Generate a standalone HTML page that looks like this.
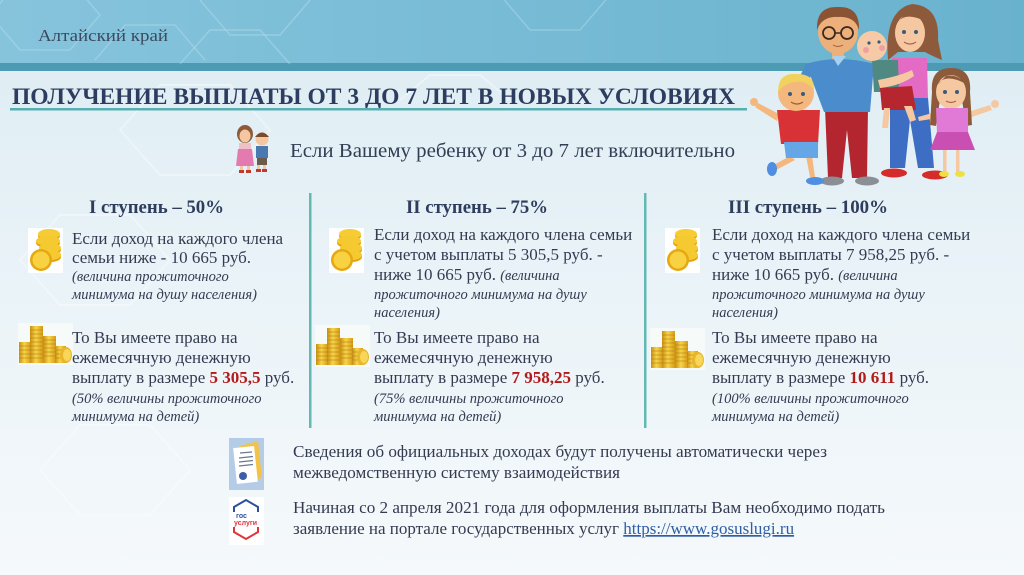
<!DOCTYPE html>
<html lang="ru">
<head>
<meta charset="utf-8">
<style>
  html,body{margin:0;padding:0;background:#eef5f9;}
  #wrap{width:1024px;height:575px;overflow:hidden;position:relative;}
  svg{display:block;}
  .t{font-family:"Liberation Serif","Noto Serif CJK SC",serif;fill:#343b51;}
  .m{font-size:17px;}
  .i{font-size:14.5px;font-style:italic;}
  .h{font-size:19px;font-weight:bold;fill:#2e3d5c;}
  .r{font-weight:bold;fill:#b31b1b;}
</style>
</head>
<body>
<div id="wrap">
<svg width="1024" height="575" viewBox="0 0 1024 575" xmlns="http://www.w3.org/2000/svg">
  <defs>
    <linearGradient id="band" x1="0" y1="0" x2="1" y2="0">
      <stop offset="0" stop-color="#86c4dc"/>
      <stop offset="1" stop-color="#69b2ce"/>
    </linearGradient>
    <linearGradient id="body" x1="0" y1="0" x2="0" y2="1">
      <stop offset="0" stop-color="#dcecf3"/>
      <stop offset="0.5" stop-color="#eaf3f8"/>
      <stop offset="1" stop-color="#f5f9fb"/>
    </linearGradient>
    <linearGradient id="gold" x1="0" y1="0" x2="1" y2="0">
      <stop offset="0" stop-color="#c98f12"/>
      <stop offset="0.45" stop-color="#f7d44a"/>
      <stop offset="1" stop-color="#d59a16"/>
    </linearGradient>
  </defs>

  <!-- background -->
  <rect x="0" y="0" width="1024" height="575" fill="url(#body)"/>
  <rect x="0" y="0" width="1024" height="64" fill="url(#band)"/>
  <rect x="0" y="63" width="1024" height="8" fill="#4d9ab5"/>

  <!-- faint hexagons in header -->
  <g fill="none" stroke="#bfe2ee" stroke-opacity="0.4" stroke-width="1.5">
    <path d="M-10 15 L20 -20 L70 -20 L100 15 L70 50 L20 50 Z"/>
    <path d="M95 60 L125 25 L175 25 L205 60"/>
    <path d="M200 0 L230 35 L280 35 L310 0"/>
    <path d="M180 64 L210 30 L260 30 L290 64"/>
    <path d="M500 -5 L530 30 L580 30 L610 -5"/>
  </g>
  <!-- faint hexagons in body -->
  <g fill="none" stroke="#ffffff" stroke-opacity="0.35" stroke-width="2">
    <path d="M120 130 L160 85 L230 85 L270 130 L230 175 L160 175 Z"/>
    <path d="M20 260 L60 215 L130 215 L170 260 L130 305 L60 305 Z"/>
    <path d="M400 100 L430 75 L480 75 L510 100"/>
    <path d="M40 470 L80 425 L150 425 L190 470 L150 515 L80 515 Z"/>
  </g>

  <!-- header texts -->
  <text class="t" x="38" y="41" font-size="17" style="fill:#3b4a60" textLength="130" lengthAdjust="spacingAndGlyphs">Алтайский край</text>
  <text class="t" x="12" y="104" font-size="23" font-weight="bold" style="fill:#2d3d5f" textLength="723" lengthAdjust="spacingAndGlyphs">ПОЛУЧЕНИЕ ВЫПЛАТЫ ОТ 3 ДО 7 ЛЕТ В НОВЫХ УСЛОВИЯХ</text>
  <rect x="10" y="108" width="737" height="2.5" fill="#58afb1"/>

  <!-- kids icon -->
  <g>
    <ellipse cx="245" cy="134" rx="8" ry="9" fill="#8d5a3a"/>
    <ellipse cx="245" cy="136" rx="5.5" ry="6.5" fill="#f4c7a0"/>
    <rect x="239" y="143" width="12" height="8" fill="#f0c0c8"/>
    <path d="M238 149 L252 149 L254 166 L236 166 Z" fill="#e47bb0"/>
    <rect x="240" y="166" width="3" height="5" fill="#f4c7a0"/>
    <rect x="247" y="166" width="3" height="5" fill="#f4c7a0"/>
    <rect x="239" y="170" width="5" height="3" fill="#c0392b"/>
    <rect x="246" y="170" width="5" height="3" fill="#c0392b"/>
    <circle cx="262" cy="139" r="6.5" fill="#f4c7a0"/>
    <path d="M255 137 Q262 128 269 137 Z" fill="#7a4a2a"/>
    <rect x="256" y="146" width="12" height="12" fill="#4a78b0"/>
    <rect x="257" y="158" width="10" height="7" fill="#6b5b4b"/>
    <rect x="257" y="165" width="3" height="5" fill="#f4c7a0"/>
    <rect x="263" y="165" width="3" height="5" fill="#f4c7a0"/>
    <rect x="256" y="169" width="5" height="3" fill="#c0392b"/>
    <rect x="262" y="169" width="5" height="3" fill="#c0392b"/>
  </g>
  <text class="t" x="290" y="157" font-size="20" style="fill:#333d55" textLength="445" lengthAdjust="spacingAndGlyphs">Если Вашему ребенку от 3 до 7 лет включительно</text>

  <!-- family illustration -->
  <g>
    <!-- dad -->
    <path d="M825 108 L868 108 L867 178 L852 178 L847 130 L842 178 L828 178 Z" fill="#b3262f"/>
    <ellipse cx="832" cy="181" rx="12" ry="4.5" fill="#8a8f95"/>
    <ellipse cx="867" cy="181" rx="12" ry="4.5" fill="#8a8f95"/>
    <rect x="832" y="48" width="12" height="12" fill="#eeb07a"/>
    <path d="M806 64 Q838 54 874 64 L870 112 L824 112 Z" fill="#4b8dcc"/>
    <path d="M806 64 L797 82 L806 86 L813 72 Z" fill="#4b8dcc"/>
    <path d="M832 56 L838 66 L846 56 Z" fill="#a8d0ef"/>
    <ellipse cx="838" cy="32" rx="20" ry="22" fill="#eeb07a"/>
    <path d="M817 30 Q816 6 838 7 Q860 6 859 30 Q855 16 838 17 Q822 16 817 30 Z" fill="#8a5434"/>
    <circle cx="829" cy="33" r="6" fill="none" stroke="#3a2a20" stroke-width="1.8"/>
    <circle cx="847" cy="33" r="6" fill="none" stroke="#3a2a20" stroke-width="1.8"/>
    <line x1="835" y1="33" x2="841" y2="33" stroke="#3a2a20" stroke-width="1.5"/>
    <path d="M833 45 Q838 48 843 45" fill="none" stroke="#a0603a" stroke-width="1"/>
    <!-- mom -->
    <path d="M888 60 Q884 10 912 4 Q940 6 938 40 L942 60 Q930 55 925 52 L898 52 Z" fill="#8e5a3c"/>
    <ellipse cx="910" cy="33" rx="15" ry="19" fill="#f6c8a2"/>
    <path d="M895 25 Q905 10 926 22 Q918 12 905 14 Z" fill="#8e5a3c"/>
    <circle cx="904" cy="32" r="2" fill="#3b5b7a"/>
    <circle cx="916" cy="32" r="2" fill="#3b5b7a"/>
    <path d="M904 42 Q910 46 916 42" fill="none" stroke="#b06050" stroke-width="1.2"/>
    <path d="M892 58 L927 58 L928 100 L891 100 Z" fill="#e46bc4"/>
    <path d="M890 98 L928 98 L934 168 L918 168 L910 120 L905 168 L890 168 Z" fill="#3d6ec3"/>
    <ellipse cx="894" cy="173" rx="13" ry="4.5" fill="#d52b2b"/>
    <ellipse cx="935" cy="175" rx="13" ry="4.5" fill="#d52b2b"/>
    <!-- baby -->
    <path d="M872 60 L898 60 L899 92 L874 92 Z" fill="#4f8982"/>
    <path d="M880 88 L912 86 L916 110 L882 110 Z" fill="#b5262e"/>
    <path d="M884 108 L890 108 L888 128 L882 128 Z" fill="#f6c8a2"/>
    <path d="M904 106 L912 106 L916 120 L910 122 Z" fill="#f6c8a2"/>
    <circle cx="872" cy="46" r="15" fill="#f6caa6"/>
    <circle cx="866" cy="50" r="3" fill="#f0a0a0"/>
    <circle cx="882" cy="48" r="3" fill="#f0a0a0"/>
    <circle cx="869" cy="43" r="1.6" fill="#3b5b7a"/>
    <circle cx="879" cy="42" r="1.6" fill="#3b5b7a"/>
    <path d="M878 80 Q900 76 912 70 L914 76 Q900 86 880 88 Z" fill="#f6c8a2"/>
    <!-- boy -->
    <path d="M779 114 L758 103 L755 107 L777 121 Z" fill="#f4b77d"/>
    <circle cx="754" cy="102" r="4" fill="#f4b77d"/>
    <path d="M790 156 L772 166 L776 170 L795 160 Z" fill="#f4b77d"/>
    <path d="M806 156 L810 177 L815 177 L812 156 Z" fill="#f4b77d"/>
    <ellipse cx="772" cy="169" rx="5" ry="7" fill="#4f8ee0"/>
    <ellipse cx="815" cy="181" rx="9" ry="4" fill="#4f8ee0"/>
    <path d="M777 110 L820 110 L818 144 L781 144 Z" fill="#d93236"/>
    <path d="M784 142 L818 142 L818 158 L786 158 Z" fill="#65a7e6"/>
    <circle cx="796" cy="93" r="18" fill="#f4b77d"/>
    <path d="M778 92 Q778 72 797 74 Q815 74 814 90 Q806 80 796 82 Q786 82 778 92 Z" fill="#f1d25e"/>
    <circle cx="790" cy="94" r="2" fill="#3b5b7a"/>
    <circle cx="803" cy="94" r="2" fill="#3b5b7a"/>
    <path d="M791 102 Q797 106 803 102" fill="none" stroke="#a05a30" stroke-width="1.2"/>
    <!-- girl -->
    <path d="M968 112 L990 105 L992 110 L969 118 Z" fill="#f6c8a2"/>
    <circle cx="995" cy="104" r="4" fill="#f6c8a2"/>
    <path d="M936 112 L918 117 L919 121 L937 118 Z" fill="#f6c8a2"/>
    <rect x="943" y="148" width="3.5" height="24" fill="#f6c8a2"/>
    <rect x="956" y="148" width="3.5" height="24" fill="#f6c8a2"/>
    <ellipse cx="944" cy="174" rx="5" ry="3" fill="#efe040"/>
    <ellipse cx="960" cy="174" rx="5" ry="3" fill="#efe040"/>
    <path d="M932 92 Q930 68 951 68 Q972 68 970 92 L972 125 L966 126 L962 100 L940 100 L936 126 L930 125 Z" fill="#8e5a3c"/>
    <ellipse cx="951" cy="92" rx="15" ry="17" fill="#f6c8a2"/>
    <path d="M936 86 Q945 72 966 84 Q958 74 946 76 Z" fill="#8e5a3c"/>
    <circle cx="945" cy="92" r="2" fill="#3b5b7a"/>
    <circle cx="957" cy="92" r="2" fill="#3b5b7a"/>
    <path d="M946 101 Q951 104 956 101" fill="none" stroke="#b06050" stroke-width="1.2"/>
    <path d="M936 108 L968 108 L968 134 L937 134 Z" fill="#e07ad6"/>
    <path d="M937 132 L968 132 L975 150 L930 150 Z" fill="#c94fb3"/>
  </g>

  <!-- column dividers -->
  <rect x="309" y="193" width="2.5" height="235" fill="#62b8b2"/>
  <rect x="644" y="193" width="2.5" height="235" fill="#62b8b2"/>

  <!-- coin icons (single stacks) -->
  <g id="coin1">
    <rect x="28" y="228" width="35" height="45" fill="#ffffff"/>
    <ellipse cx="49" cy="236" rx="11" ry="5" fill="#e5a810"/>
    <ellipse cx="49" cy="234" rx="11" ry="5" fill="#f6cc35"/>
    <ellipse cx="48" cy="243" rx="12" ry="5" fill="#e2a20e"/>
    <ellipse cx="48" cy="241" rx="12" ry="5" fill="#f5c930"/>
    <ellipse cx="50" cy="250" rx="11" ry="5" fill="#e2a20e"/>
    <ellipse cx="50" cy="248" rx="11" ry="5" fill="#f5c930"/>
    <ellipse cx="51" cy="257" rx="10" ry="5" fill="#e2a20e"/>
    <ellipse cx="51" cy="255" rx="10" ry="5" fill="#f5c930"/>
    <circle cx="41" cy="260" r="11" fill="#e5a810"/>
    <circle cx="41" cy="260" r="8.5" fill="#f8d243"/>
  </g>
  <use href="#coin1" x="301" y="0"/>
  <use href="#coin1" x="637" y="0"/>

  <!-- coin stacks -->
  <g id="stack1">
    <rect x="18" y="323" width="55" height="42" fill="#fbfcf8" opacity="0.7"/>
    <rect x="19" y="342" width="12" height="21" fill="url(#gold)"/>
    <rect x="30" y="326" width="13" height="37" fill="url(#gold)"/>
    <rect x="43" y="336" width="13" height="27" fill="url(#gold)"/>
    <rect x="55" y="346" width="11" height="17" fill="url(#gold)"/>
    <g stroke="#b07c10" stroke-width="0.8" stroke-opacity="0.7">
      <line x1="19" y1="346" x2="31" y2="346"/><line x1="19" y1="350" x2="31" y2="350"/><line x1="19" y1="354" x2="31" y2="354"/><line x1="19" y1="358" x2="31" y2="358"/>
      <line x1="30" y1="330" x2="43" y2="330"/><line x1="30" y1="334" x2="43" y2="334"/><line x1="30" y1="338" x2="43" y2="338"/><line x1="30" y1="342" x2="43" y2="342"/><line x1="30" y1="346" x2="43" y2="346"/><line x1="30" y1="350" x2="43" y2="350"/><line x1="30" y1="354" x2="43" y2="354"/><line x1="30" y1="358" x2="43" y2="358"/>
      <line x1="43" y1="340" x2="56" y2="340"/><line x1="43" y1="344" x2="56" y2="344"/><line x1="43" y1="348" x2="56" y2="348"/><line x1="43" y1="352" x2="56" y2="352"/><line x1="43" y1="356" x2="56" y2="356"/>
      <line x1="55" y1="350" x2="66" y2="350"/><line x1="55" y1="354" x2="66" y2="354"/><line x1="55" y1="358" x2="66" y2="358"/>
    </g>
    <ellipse cx="66" cy="355" rx="6" ry="8" fill="#e9b52a"/>
    <ellipse cx="67" cy="355" rx="4" ry="6" fill="#f7d65a"/>
  </g>
  <use href="#stack1" x="297" y="2"/>
  <use href="#stack1" x="632" y="5"/>

  <!-- Column 1 -->
  <text class="t h" x="89" y="213" textLength="135" lengthAdjust="spacingAndGlyphs">I ступень – 50%</text>
  <text class="t m" x="72" y="244">Если доход на каждого члена</text>
  <text class="t m" x="72" y="263">семьи ниже - 10 665 руб.</text>
  <text class="t i" x="72" y="281">(величина прожиточного</text>
  <text class="t i" x="72" y="299">минимума на душу населения)</text>
  <text class="t m" x="72" y="343">То Вы имеете право на</text>
  <text class="t m" x="72" y="363">ежемесячную денежную</text>
  <text class="t m" x="72" y="383">выплату в размере <tspan class="r">5 305,5</tspan> руб.</text>
  <text class="t i" x="72" y="403">(50% величины прожиточного</text>
  <text class="t i" x="72" y="421">минимума на детей)</text>

  <!-- Column 2 -->
  <text class="t h" x="406" y="213" textLength="142" lengthAdjust="spacingAndGlyphs">II ступень – 75%</text>
  <text class="t m" x="374" y="240">Если доход на каждого члена семьи</text>
  <text class="t m" x="374" y="260">с учетом выплаты 5 305,5 руб. -</text>
  <text class="t m" x="374" y="280">ниже 10 665 руб. <tspan style="font-size:14.5px;font-style:italic">(величина</tspan></text>
  <text class="t i" x="374" y="299">прожиточного минимума на душу</text>
  <text class="t i" x="374" y="317">населения)</text>
  <text class="t m" x="374" y="343">То Вы имеете право на</text>
  <text class="t m" x="374" y="363">ежемесячную денежную</text>
  <text class="t m" x="374" y="383">выплату в размере <tspan class="r">7 958,25</tspan> руб.</text>
  <text class="t i" x="374" y="403">(75% величины прожиточного</text>
  <text class="t i" x="374" y="421">минимума на детей)</text>

  <!-- Column 3 -->
  <text class="t h" x="728" y="213" textLength="160" lengthAdjust="spacingAndGlyphs">III ступень – 100%</text>
  <text class="t m" x="712" y="240">Если доход на каждого члена семьи</text>
  <text class="t m" x="712" y="260">с учетом выплаты 7 958,25 руб. -</text>
  <text class="t m" x="712" y="280">ниже 10 665 руб. <tspan style="font-size:14.5px;font-style:italic">(величина</tspan></text>
  <text class="t i" x="712" y="299">прожиточного минимума на душу</text>
  <text class="t i" x="712" y="317">населения)</text>
  <text class="t m" x="712" y="343">То Вы имеете право на</text>
  <text class="t m" x="712" y="363">ежемесячную денежную</text>
  <text class="t m" x="712" y="383">выплату в размере <tspan class="r">10 611</tspan> руб.</text>
  <text class="t i" x="712" y="403">(100% величины прожиточного</text>
  <text class="t i" x="712" y="421">минимума на детей)</text>

  <!-- document icon -->
  <g>
    <rect x="229" y="438" width="35" height="52" fill="#b5cce6"/>
    <path d="M240 446 L258 441 L262 478 L246 482 Z" fill="#f2c24a"/>
    <rect x="235" y="447" width="21" height="36" fill="#ffffff" transform="rotate(-6 245 465)"/>
    <g stroke="#6a7890" stroke-width="1.3">
      <line x1="240" y1="453" x2="252" y2="452"/>
      <line x1="239" y1="458" x2="253" y2="456.5"/>
      <line x1="239" y1="462" x2="253" y2="460.5"/>
      <line x1="239" y1="466" x2="253" y2="464.5"/>
    </g>
    <circle cx="243" cy="476" r="4" fill="#3d5ea8"/>
  </g>

  <!-- gosuslugi icon -->
  <g>
    <rect x="229" y="497" width="35" height="48" fill="#ffffff"/>
    <path d="M234 512 L234 507 L246 500 L258 507 L258 512" fill="none" stroke="#2d4f9e" stroke-width="2"/>
    <path d="M234 527 L234 532 L246 539 L258 532 L258 527" fill="none" stroke="#e0343b" stroke-width="2"/>
    <text x="236" y="518" font-family="Liberation Sans, sans-serif" font-size="7" font-weight="bold" fill="#2d4f9e">гос</text>
    <text x="234" y="525" font-family="Liberation Sans, sans-serif" font-size="7" font-weight="bold" fill="#e0343b">услуги</text>
  </g>

  <!-- bottom texts -->
  <text class="t m" x="293" y="457" textLength="534" lengthAdjust="spacingAndGlyphs">Сведения об официальных доходах будут получены автоматически через</text>
  <text class="t m" x="293" y="478" textLength="327" lengthAdjust="spacingAndGlyphs">межведомственную систему взаимодействия</text>
  <text class="t m" x="293" y="513" textLength="592" lengthAdjust="spacingAndGlyphs">Начиная со 2 апреля 2021 года для оформления выплаты Вам необходимо подать</text>
  <text class="t m" x="293" y="534">заявление на портале государственных услуг <tspan style="fill:#2f5ea6;text-decoration:underline">https://www.gosuslugi.ru</tspan></text>
</svg>
</div>
</body>
</html>
